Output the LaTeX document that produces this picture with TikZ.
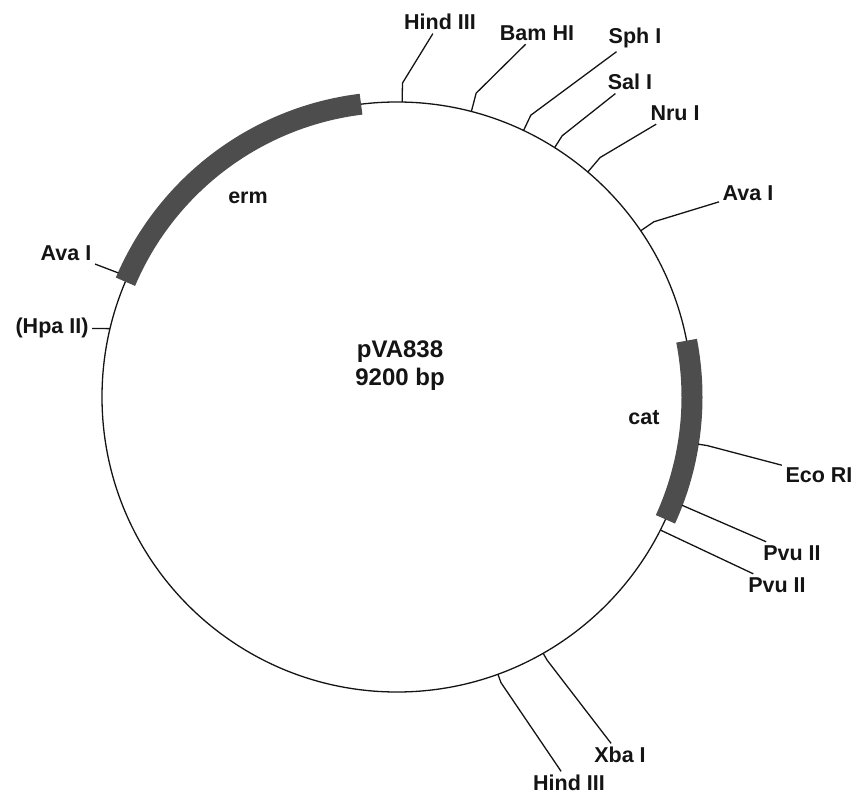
\documentclass[tikz,border=0pt]{standalone}
\usepackage{fontspec}
\setmainfont{Liberation Sans}
\usetikzlibrary{calc}
\definecolor{Ink}{HTML}{141414}
\definecolor{Gene}{HTML}{4D4D4D}

\begin{document}
\begin{tikzpicture}[
  x=1pt, y=1pt,
  font=\fontsize{21.5}{28}\selectfont\bfseries,
  backbone/.style={draw=Ink, line width=1.3pt},
  cutline/.style={draw=Ink, line width=1.3pt, line join=round},
  tag/.style={inner sep=3.5pt, text=Ink, align=center},
  gene/.style={draw=Gene, line width=21pt}
]
\useasboundingbox (0,0) rectangle (861,804);
\coordinate (c) at (397,407);

% plasmid and the two genes
\draw[backbone] (c) circle[radius=295];
\draw[gene] ($(c)+(97:295)$) arc[start angle=97, end angle=157, radius=295];
\draw[gene] ($(c)+(-24.5:295)$) arc[start angle=-24.5, end angle=11, radius=295];

\node[tag, font=\fontsize{24}{28}\selectfont\bfseries] (plasmid) at (400,438) {pVA838\\9200 bp};
\node[tag] (erm) at (248,606) {erm};
\node[tag] (cat) at (644,386) {cat};

% restriction sites: name/angle/start radius/bend radius/label position/label
\foreach \nm/\ang/\rin/\rbend/\pos/\txt in {
  hindA/89/295/314/{440,782}/Hind III,
  bam/75.4/295/314/{537,771}/Bam HI,
  sph/64.6/295/312/{635,766}/Sph I,
  sal/57.7/295/309/{630,722}/Sal I,
  nru/49.7/295/314/{675,691}/Nru I,
  avaR/34.3/295/311/{748,611}/Ava I,
  eco/-8.9/305/314/{819,329}/Eco RI,
  pvuA/-20.8/305/305/{792,251}/Pvu II,
  pvuB/-26.8/295/295/{777,219}/Pvu II,
  xba/-60.3/295/303/{620,49}/Xba I,
  hindB/-70/295/304/{569,21}/Hind III,
  hpa/166.6/295/295/{52,476}/{(Hpa II)},
  avaL/156/305/305/{66,551}/Ava I}
{
  \node[tag] (\nm) at (\pos) {\txt};
  \coordinate (\nm-in) at ($(c)+(\ang:\rin)$);
  \coordinate (\nm-bend) at ($(c)+(\ang:\rbend)$);
  \draw[cutline] (\nm-in) -- (\nm-bend) -- (\nm);
}
\end{tikzpicture}
\end{document}
